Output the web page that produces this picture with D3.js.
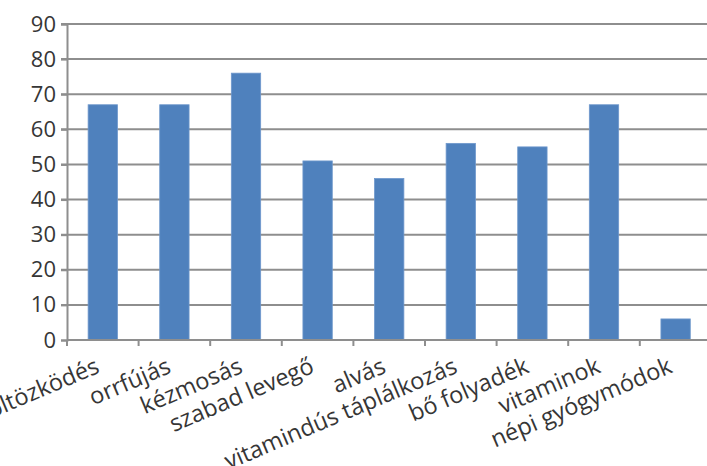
<!DOCTYPE html>
<html>
<head>
<meta charset="utf-8">
<script src="https://cdn.jsdelivr.net/npm/d3@7"></script>
<style>
  html, body { margin: 0; padding: 0; background: #fff; }
  svg { display: block; }
</style>
</head>
<body>
<svg id="chart" width="707" height="466"></svg>
<script>
const categories = ["öltözködés", "orrfújás", "kézmosás", "szabad levegő", "alvás", "vitamindús táplálkozás", "bő folyadék", "vitaminok", "népi gyógymódok"];
const values = [67, 67, 76, 51, 46, 56, 55, 67, 6];
const yTicks = [0, 10, 20, 30, 40, 50, 60, 70, 80, 90];

(function () {
const svg = d3.select("#chart");
const mLeft = 67, mTop = 24, mBottom = 340, step = 71.6;
const font = "'Open Sans', sans-serif";
const gridColor = "#8e8e8e";
const textColor = "#363636";

const x = d3.scaleBand().domain(categories).range([mLeft, mLeft + step * categories.length]).padding(0);
const y = d3.scaleLinear().domain([0, 90]).range([mBottom, mTop]);

// gridlines
svg.append("g").selectAll("line").data(yTicks.filter(d => d > 0)).join("line")
  .attr("x1", mLeft - 6).attr("x2", 707)
  .attr("y1", d => y(d)).attr("y2", d => y(d))
  .attr("stroke", gridColor).attr("stroke-width", 2);

// y axis
const yAxis = d3.axisLeft(y).tickValues(yTicks).tickSize(6).tickPadding(5).tickFormat(d3.format("d"));
const gy = svg.append("g").attr("transform", `translate(${mLeft},0)`).call(yAxis);
gy.select(".domain").attr("stroke", gridColor).attr("stroke-width", 2);
gy.selectAll(".tick line").attr("stroke", gridColor).attr("stroke-width", 2);
gy.selectAll(".tick text").attr("font-family", font).attr("font-size", 22).attr("fill", textColor);

// bars
const bw = x.bandwidth() * 0.41;
svg.append("g").selectAll("rect").data(values).join("rect")
  .attr("x", (d, i) => x(categories[i]) + (x.bandwidth() - bw) / 2)
  .attr("width", bw)
  .attr("y", d => y(d))
  .attr("height", d => y(0) - y(d))
  .attr("fill", "#4f81bd")
  .attr("stroke", "#6f98cc").attr("stroke-width", 0.8);

// x axis line
svg.append("line").attr("x1", mLeft).attr("x2", 707).attr("y1", mBottom).attr("y2", mBottom)
  .attr("stroke", gridColor).attr("stroke-width", 2);
// x ticks at band boundaries
svg.append("g").selectAll("line").data(categories).join("line")
  .attr("x1", d => x(d)).attr("x2", d => x(d))
  .attr("y1", mBottom).attr("y2", mBottom + 6)
  .attr("stroke", gridColor).attr("stroke-width", 2);

// category labels
svg.append("g").selectAll("text").data(categories).join("text")
  .attr("transform", d => `translate(${x(d) + x.bandwidth() / 2 - 2},${mBottom + 32}) rotate(-23)`)
  .attr("text-anchor", "end")
  .attr("font-family", font).attr("font-size", 23.5).attr("fill", textColor)
  .text(d => d);
})();
</script>
</body>
</html>
